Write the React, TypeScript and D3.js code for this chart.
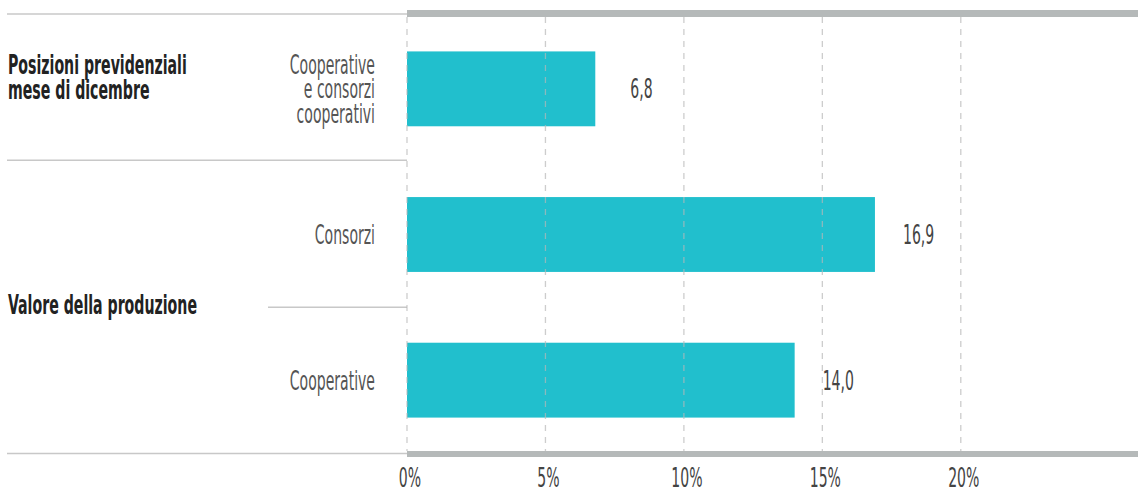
import React from 'react';
import * as d3 from 'd3';

// Data
const categories = ['coop-consorzi', 'consorzi', 'cooperative'];
const categoryLines = [['Cooperative', 'e consorzi', 'cooperativi'], ['Consorzi'], ['Cooperative']];
const values = [6.8, 16.9, 14.0];
const groupLabels = [['Posizioni previdenziali', 'mese di dicembre'], ['Valore della produzione']];
const groupMembers = [[0], [1, 2]];
const xTicks = [0, 5, 10, 15, 20];

// layout
const W = 1138;
const H = 492;
const left = 407;
const plotTop = 14;
const plotBottom = 454;
const groupLabelShift = [-11, -3];
const fs = 26;
const font = "'Liberation Sans Narrow', 'DejaVu Sans Condensed', 'DejaVu Sans', sans-serif";

const it = d3.formatLocale({ decimal: ',', thousands: '.', grouping: [3], currency: ['€', ''] });
const fmt = it.format('.1f');

const Label: React.FC<{ x: number; y: number; anchor?: string; sx?: number; bold?: boolean; fill?: string; children: string }> = ({
  x, y, anchor = 'start', sx = 0.6, bold = false, fill = '#555', children,
}) => (
  <text
    transform={`translate(${x},${y}) scale(${sx},1)`}
    textAnchor={anchor}
    fontFamily={font}
    fontSize={fs}
    fontWeight={bold ? 700 : 300}
    fill={fill}
  >
    {children}
  </text>
);

const App: React.FC = () => {
  const x = d3.scaleLinear().domain([0, 26.4]).range([left, W]);
  const y = d3.scaleBand<string>().domain(categories).range([15, 454]).paddingInner(0.486).paddingOuter(0.25);
  const bw = y.bandwidth();
  const lineH = 24.5;
  const half = fs * 0.36;

  const center = (i: number) => (y(categories[i]) as number) + bw / 2;
  // middle of the gap between bar i and bar i+1
  const between = (i: number) => ((y(categories[i]) as number) + bw + (y(categories[i + 1]) as number)) / 2;

  return (
    <svg width={W} height={H} style={{ position: 'absolute', left: 0, top: 0, background: '#fff' }}>
      {/* left thin rules */}
      <line x1={7} x2={left} y1={plotTop} y2={plotTop} stroke="#c8c8c8" strokeWidth={1.5} />
      <line x1={7} x2={left} y1={plotBottom - 0.5} y2={plotBottom - 0.5} stroke="#c8c8c8" strokeWidth={1.5} />
      {groupMembers.slice(0, -1).map((m, gi) => (
        <line key={'gs' + gi} x1={7} x2={left} y1={between(m[m.length - 1]) - 1.5} y2={between(m[m.length - 1]) - 1.5}
          stroke="#c8c8c8" strokeWidth={1.5} />
      ))}
      {groupMembers.map((m, gi) =>
        m.slice(0, -1).map((ci) => (
          <line key={'ss' + gi + ci} x1={268} x2={left} y1={between(ci)} y2={between(ci)} stroke="#c8c8c8" strokeWidth={1.5} />
        ))
      )}

      {/* bars */}
      {values.map((v, i) => (
        <rect key={categories[i]} x={x(0)} y={y(categories[i])} width={x(v) - x(0)} height={bw} fill="#21bfcd" />
      ))}

      {/* dashed grid */}
      {xTicks.map((t) => (
        <line key={'g' + t} x1={x(t)} x2={x(t)} y1={17} y2={451} stroke="#b8b8b8" strokeOpacity={0.7}
          strokeWidth={1.3} strokeDasharray="6,6" />
      ))}

      {/* thick top / bottom bands */}
      <rect x={left} y={10} width={W - left} height={7} fill="#b5b9b9" />
      <rect x={left} y={451} width={W - left} height={6} fill="#b5b9b9" />

      {/* value labels */}
      {values.map((v, i) => (
        <Label key={'v' + i} x={x(v) + (i === 0 ? 35 : 28)} y={center(i) + half} fill="#444">{fmt(v)}</Label>
      ))}

      {/* category labels */}
      {categoryLines.map((lines, i) =>
        lines.map((ln, k) => (
          <Label key={'c' + i + k} x={375} y={center(i) + (k - (lines.length - 1) / 2) * lineH + half} anchor="end">
            {ln}
          </Label>
        ))
      )}

      {/* group labels */}
      {groupLabels.map((lines, gi) => {
        const m = groupMembers[gi];
        const top = gi === 0 ? plotTop : between(groupMembers[gi - 1][groupMembers[gi - 1].length - 1]);
        const bottom = gi === groupMembers.length - 1 ? plotBottom : between(m[m.length - 1]);
        const c = (top + bottom) / 2 + groupLabelShift[gi];
        return lines.map((ln, k) => (
          <Label key={'gl' + gi + k} x={8} y={c + (k - (lines.length - 1) / 2) * 25 + half} sx={0.605} bold fill="#222">
            {ln}
          </Label>
        ));
      })}

      {/* x tick labels */}
      {xTicks.map((t) => (
        <Label key={'t' + t} x={x(t) + 3} y={487} anchor="middle" fill="#444">{t + '%'}</Label>
      ))}
    </svg>
  );
};

export default App;
